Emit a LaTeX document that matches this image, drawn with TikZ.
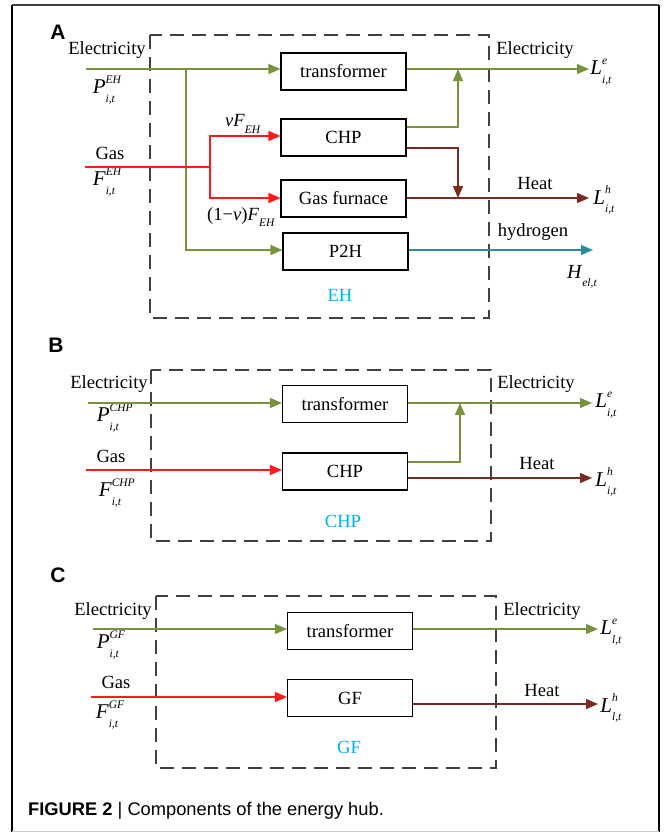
\documentclass[tikz,border=0pt]{standalone}
\usepackage{fontspec}
\setmainfont{Liberation Serif}
\newfontfamily\capfont{Liberation Sans}
\usetikzlibrary{arrows.meta}
\definecolor{eg}{HTML}{77933C}
\definecolor{gr}{HTML}{FF1A1A}
\definecolor{hb}{HTML}{7B2A20}
\definecolor{hy}{HTML}{2A8CA0}
\definecolor{lc}{HTML}{00B0F0}
\definecolor{dg}{HTML}{404040}
\newcommand\basefont{\fontsize{18.6}{22}\selectfont}
\newcommand\scrf[1]{{\fontsize{11.5}{11.5}\selectfont\textit{#1}}}
\newcommand\symq[3]{{\fontsize{21}{22}\selectfont\textit{#1}}\rlap{\raisebox{0.55em}{\scrf{#2}}}\raisebox{-0.45em}{\scrf{#3}}}
\newcommand\symsub[2]{\textit{#1}\raisebox{-0.35em}{\scrf{#2}}}
\newcommand\symbig[2]{{\fontsize{20}{22}\selectfont\textit{#1}}\raisebox{-0.4em}{\scrf{#2}}}
\tikzset{
  box/.style={draw=black, line width=1.1pt, minimum width=125pt, minimum height=37pt, inner sep=0pt, font=\basefont},
  lbl/.style={inner sep=0pt, font=\basefont},
  hubl/.style={inner sep=0pt, font=\basefont, text=lc},
  hub/.style={draw=dg, dash pattern=on 14pt off 8pt, line width=1.3pt},
  arr/.style={-{Triangle[length=12pt,width=10pt]}},
  elec/.style={draw=eg, line width=1.3pt},
  gasl/.style={draw=gr, line width=1.3pt},
  heat/.style={draw=hb, line width=1.3pt},
  hydr/.style={draw=hy, line width=1.3pt},
  panel/.style={inner sep=0pt, font=\capfont\bfseries\fontsize{21}{21}\selectfont}
}
\begin{document}
\begin{tikzpicture}[x=1pt,y=-1pt]
\useasboundingbox (0,0) rectangle (664,833);
% outer frame
\draw[line width=1.5pt, black] (12,5) -- (12,832);
\draw[line width=1.5pt, black] (659,5) -- (659,832);
\draw[line width=2.5pt, dg] (12,5) -- (659,5);
\draw[line width=1pt, black!20] (12,831) -- (659,831);

%%%%%%%%%%%%%%%% Panel A
\node[panel] (pA) at (58,32) {A};
\draw[hub] (150,35) rectangle (489,318);
\node[box] (trA) at (343.5,71.5) {transformer};
\node[box] (chpA) at (343.5,137.5) {CHP};
\node[box] (gfA) at (343.5,198.5) {Gas furnace};
\node[box] (p2hA) at (345.5,251.5) {P2H};
\node[hubl] (ehA) at (340,295) {EH};

\node[lbl] (elA) at (107,50) {Electricity};
\node[lbl] (pEH) at (104,90) {\symq{P}{EH}{i,t}};
\node[lbl] (gasA) at (110,153) {Gas};
\node[lbl] (fEH) at (104,182) {\symq{F}{EH}{i,t}};
\node[lbl] (vF) at (243,124) {\textit{v}\symsub{F}{EH}};
\node[lbl] (v1F) at (241,217) {(1−\textit{v})\symsub{F}{EH}};
\node[lbl] (elAo) at (535,50) {Electricity};
\node[lbl] (LeA) at (601,72) {\symq{L}{e}{i,t}};
\node[lbl] (heatA) at (535,183) {Heat};
\node[lbl] (LhA) at (604,200) {\symq{L}{h}{i,t}};
\node[lbl] (hydA) at (533,232) {hydrogen};
\node[lbl] (HelA) at (582,277) {\symbig{H}{el,t}};

\coordinate (eInA) at (86,69);
\coordinate (eJA) at (186,69);
\coordinate (gInA) at (85,167);
\coordinate (gJA) at (210,167);
\coordinate (eOutA) at (589,69);
\coordinate (jEA) at (458,69);
\coordinate (cgA) at (458,127);
\coordinate (cbA) at (458,148);
\coordinate (jHA) at (458,198);
\coordinate (hOutA) at (589,198);
\coordinate (yOutA) at (593,250);

\draw[elec,arr] (eInA) -- (eInA -| trA.west);
\draw[elec,arr] (eJA) |- (p2hA.west |- 0,250);
\draw[gasl] (gInA) -- (gJA);
\draw[gasl,arr] (gJA) |- (chpA.west |- 0,136);
\draw[gasl,arr] (gJA) |- (gfA.west |- 0,198);
\draw[elec,arr] (trA.east |- eOutA) -- (eOutA);
\draw[elec,arr] (chpA.east |- cgA) -| (jEA);
\draw[heat,arr] (chpA.east |- cbA) -| (jHA);
\draw[heat,arr] (gfA.east |- hOutA) -- (hOutA);
\draw[hydr,arr] (p2hA.east |- yOutA) -- (yOutA);

%%%%%%%%%%%%%%%% Panel B
\node[panel] (pB) at (56,345) {B};
\draw[hub] (151,370) rectangle (491,541);
\node[box] (trB) at (345,404) {transformer};
\node[box] (chpB) at (345,471.5) {CHP};
\node[hubl] (chpBl) at (343,521) {CHP};

\node[lbl] (elB) at (109,384) {Electricity};
\node[lbl] (pCHP) at (108,418) {\symq{P}{CHP}{i,t}};
\node[lbl] (gasB) at (111,456) {Gas};
\node[lbl] (fCHP) at (110,493) {\symq{F}{CHP}{i,t}};
\node[lbl] (elBo) at (536,384) {Electricity};
\node[lbl] (LeB) at (606,405) {\symq{L}{e}{i,t}};
\node[lbl] (heatB) at (537,463) {Heat};
\node[lbl] (LhB) at (606,482) {\symq{L}{h}{i,t}};

\coordinate (eInB) at (88,403);
\coordinate (gInB) at (86,470);
\coordinate (eOutB) at (592,403);
\coordinate (jEB) at (460,403);
\coordinate (cgB) at (460,462);
\coordinate (hOutB) at (592,478);

\draw[elec,arr] (eInB) -- (eInB -| trB.west);
\draw[gasl,arr] (gInB) -- (gInB -| chpB.west);
\draw[elec,arr] (trB.east |- eOutB) -- (eOutB);
\draw[elec,arr] (chpB.east |- cgB) -| (jEB);
\draw[heat,arr] (chpB.east |- hOutB) -- (hOutB);

%%%%%%%%%%%%%%%% Panel C
\node[panel] (pC) at (58,575) {C};
\draw[hub] (156,596) rectangle (496,768);
\node[box] (trC) at (350,631) {transformer};
\node[box] (gfC) at (350,698) {GF};
\node[hubl] (gfCl) at (349,747) {GF};

\node[lbl] (elC) at (113,611) {Electricity};
\node[lbl] (pGF) at (108,645) {\symq{P}{GF}{i,t}};
\node[lbl] (gasC) at (116,682) {Gas};
\node[lbl] (fGF) at (107,715) {\symq{F}{GF}{i,t}};
\node[lbl] (elCo) at (542,611) {Electricity};
\node[lbl] (LeC) at (611,632) {\symq{L}{e}{l,t}};
\node[lbl] (heatC) at (542,690) {Heat};
\node[lbl] (LhC) at (611,708) {\symq{L}{h}{l,t}};

\coordinate (eInC) at (93,629);
\coordinate (gInC) at (91,697);
\coordinate (eOutC) at (598,629);
\coordinate (hOutC) at (598,704);

\draw[elec,arr] (eInC) -- (eInC -| trC.west);
\draw[gasl,arr] (gInC) -- (gInC -| gfC.west);
\draw[elec,arr] (trC.east |- eOutC) -- (eOutC);
\draw[heat,arr] (gfC.east |- hOutC) -- (hOutC);

% caption
\node[anchor=base west, inner sep=0pt, font=\capfont\fontsize{18.3}{20}\selectfont] (cap) at (28,815) {\textbf{FIGURE 2} | Components of the energy hub.};
\end{tikzpicture}
\end{document}
